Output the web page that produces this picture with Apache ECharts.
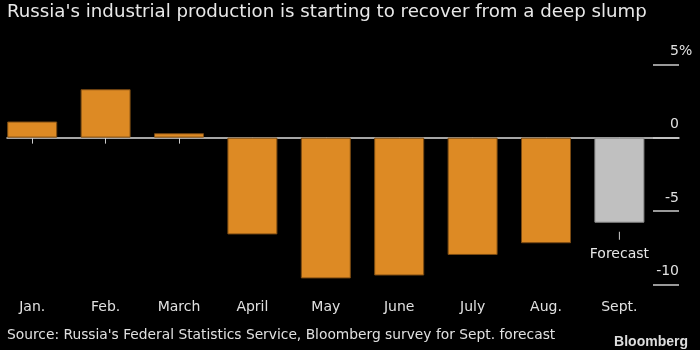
<!DOCTYPE html>
<html>
<head>
<meta charset="utf-8">
<script src="https://cdn.jsdelivr.net/npm/echarts@6/dist/echarts.min.js"></script>
<style>
html,body{margin:0;padding:0;background:#000;}
#c{width:700px;height:350px;}
</style>
</head>
<body>
<div id="c"></div>
<script>
const categories = ['Jan.', 'Feb.', 'March', 'April', 'May', 'June', 'July', 'Aug.', 'Sept.'];
const values = [1.1, 3.3, 0.3, -6.6, -9.6, -9.4, -8.0, -7.2, -5.8];
const forecastIndex = 8;
const yTicks = [-10, -5, 0, 5];
const titleText = "Russia's industrial production is starting to recover from a deep slump";
const sourceText = "Source: Russia's Federal Statistics Service, Bloomberg survey for Sept. forecast";

const FONT = '"DejaVu Sans", sans-serif';
const orange = '#dd8a24';
const grey = '#c0c0c0';

const chart = echarts.init(document.getElementById('c'), null, {renderer: 'canvas'});

const data = values.map((v, i) => {
  if (i === forecastIndex) {
    return {
      value: v,
      itemStyle: {color: grey, borderColor: '#8a8a8a', borderWidth: 1},
      label: {
        show: true,
        position: 'bottom',
        distance: 9,
        formatter: '{l|}\n{t|Forecast}',
        rich: {
          l: {width: 1, height: 8, backgroundColor: '#cccccc'},
          t: {fontSize: 14, fontFamily: FONT, color: '#e6e6e6', lineHeight: 18, padding: [12, 0, 0, 0]}
        }
      }
    };
  }
  return v;
});

const option = {
  backgroundColor: '#000',
  animation: false,
  title: [{
    text: titleText,
    left: 2, top: -2,
    textStyle: {color: '#e8e8e8', fontSize: 18.2, fontWeight: 'normal', fontFamily: FONT}
  }, {
    text: sourceText,
    left: 2, top: 323,
    textStyle: {color: '#e0e0e0', fontSize: 13.8, fontWeight: 'normal', fontFamily: FONT}
  }, {
    text: 'Bloomberg',
    right: 7, top: 330,
    textStyle: {color: '#dddddd', fontSize: 14, fontWeight: 'bold', fontFamily: '"Liberation Sans", Arial, sans-serif'}
  }],
  grid: [
    {left: -4.5, right: 43.9, top: 64.3, bottom: 65.7, outerBoundsMode: 'none', containLabel: false},
    {left: 7, right: 21, top: 64.3, bottom: 65.7, outerBoundsMode: 'none', containLabel: false}
  ],
  xAxis: [{
    type: 'category',
    gridIndex: 0,
    data: categories,
    axisLine: {show: false},
    axisTick: {show: true, alignWithLabel: true, length: 6, lineStyle: {color: '#cccccc'}},
    axisLabel: {color: '#e0e0e0', fontSize: 14, fontFamily: FONT, margin: 16}
  }, {
    type: 'value',
    gridIndex: 1,
    min: 0, max: 1,
    axisLine: {show: true, onZero: true, lineStyle: {color: '#dddddd', width: 1.5}},
    axisTick: {show: false},
    axisLabel: {show: false},
    splitLine: {show: false}
  }],
  yAxis: [{
    type: 'value',
    gridIndex: 0,
    min: -10, max: 5, interval: 5,
    show: false
  }, {
    type: 'value',
    gridIndex: 1,
    position: 'right',
    min: -10, max: 5, interval: 5,
    name: '%',
    nameLocation: 'end',
    nameGap: 0,
    nameMoveOverlap: false,
    nameTextStyle: {color: '#e0e0e0', fontSize: 14, fontFamily: FONT, align: 'left', verticalAlign: 'bottom', padding: [0, 0, 6, 0]},
    axisLine: {show: false, onZero: false},
    splitLine: {show: false},
    axisTick: {show: true, inside: true, length: 26, lineStyle: {color: '#cccccc', width: 1.5}},
    axisLabel: {
      inside: true,
      margin: 0,
      align: 'right',
      verticalAlign: 'bottom',
      padding: [0, 0, 6, 0],
      color: '#e0e0e0',
      fontSize: 14,
      fontFamily: FONT,
      formatter: function (v) {
        return yTicks.indexOf(v) < 0 ? '' : String(v);
      }
    }
  }],
  series: [{
    type: 'bar',
    xAxisIndex: 0,
    yAxisIndex: 0,
    data: data,
    barWidth: 50,
    itemStyle: {color: orange, borderColor: '#7a4a12', borderWidth: 1}
  }]
};
chart.setOption(option);
</script>
</body>
</html>
